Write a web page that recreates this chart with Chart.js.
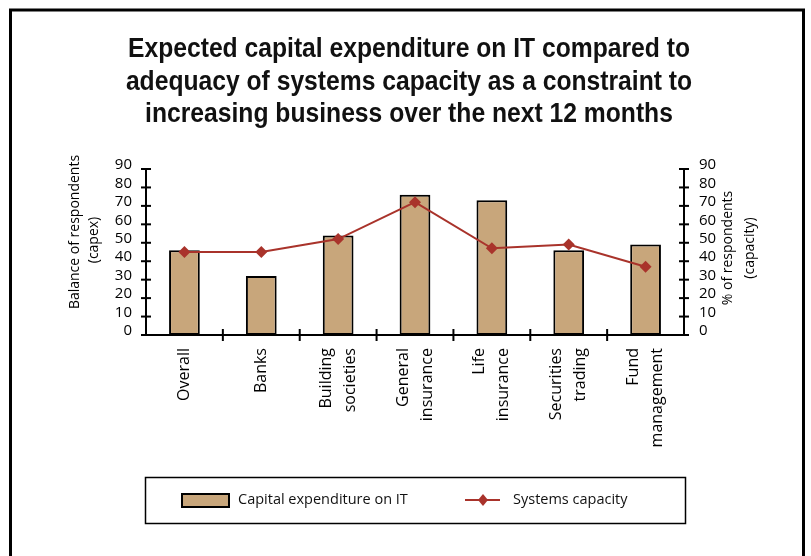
<!DOCTYPE html>
<html><head><meta charset="utf-8">
<script src="https://cdn.jsdelivr.net/npm/chart.js@4.4.1/dist/chart.umd.min.js"></script>
<style>html,body{margin:0;padding:0;background:#fff;}#wrap{width:811px;height:556px;}</style>
</head><body><div id="wrap"><canvas id="c" width="811" height="556"></canvas></div>
<script>
const titleLines = ['Expected capital expenditure on IT compared to', 'adequacy of systems capacity as a constraint to', 'increasing business over the next 12 months'];
const categories = [['Overall'], ['Banks'], ['Building', 'societies'], ['General', 'insurance'], ['Life', 'insurance'], ['Securities', 'trading'], ['Fund', 'management']];
const capexValues = [46, 32, 54, 76, 73, 46, 49];
const capacityValues = [45, 45, 52, 72, 47, 49, 37];
const seriesNames = ['Capital expenditure on IT', 'Systems capacity'];
const leftAxisTitle = ['Balance of respondents', '(capex)'];
const rightAxisTitle = ['% of respondents', '(capacity)'];
const axisMin = 0, axisMax = 90, axisStep = 10;

const BAR = '#C8A67B', LINE = '#A9332B';
const FONT = '"Open Sans", "DejaVu Sans", sans-serif';

const decor = {
  id: 'decor',
  beforeDraw(chart) {
    const ctx = chart.ctx;
    ctx.save(); ctx.fillStyle = '#fff'; ctx.fillRect(0, 0, chart.width, chart.height); ctx.restore();
  },
  afterDraw(chart) {
    const ctx = chart.ctx;
    const xs = chart.scales.x, yl = chart.scales.y, yr = chart.scales.y1;
    const area = chart.chartArea;
    ctx.save();
    // outer frame
    ctx.strokeStyle = '#000'; ctx.lineWidth = 3;
    ctx.strokeRect(10.5, 10, 793, 700);
    // title (condensed by horizontal scaling)
    ctx.fillStyle = '#111';
    ctx.font = 'bold 27px "Liberation Sans", Arial, sans-serif';
    ctx.textAlign = 'center'; ctx.textBaseline = 'middle';
    const sx = 562 / ctx.measureText(titleLines[0]).width;
    titleLines.forEach((t, i) => {
      ctx.save(); ctx.translate(409, 50 + i * 32.5); ctx.scale(sx, 1);
      ctx.fillText(t, 0, 0); ctx.restore();
    });
    // tick marks crossing the axes
    ctx.strokeStyle = '#000'; ctx.lineWidth = 2;
    for (let v = axisMin; v <= axisMax; v += axisStep) {
      const py = yl.getPixelForValue(v);
      ctx.beginPath(); ctx.moveTo(area.left - 5, py); ctx.lineTo(area.left + 5, py); ctx.stroke();
      const pr = yr.getPixelForValue(v);
      ctx.beginPath(); ctx.moveTo(area.right - 5, pr); ctx.lineTo(area.right + 5, pr); ctx.stroke();
    }
    for (let i = 1; i < categories.length; i++) {
      const px = (xs.getPixelForValue(i - 1) + xs.getPixelForValue(i)) / 2;
      ctx.beginPath(); ctx.moveTo(px, area.bottom - 6); ctx.lineTo(px, area.bottom + 6); ctx.stroke();
    }
    // category labels (rotated)
    ctx.fillStyle = '#000';
    ctx.font = '16px ' + FONT;
    categories.forEach((lines, i) => {
      const px = xs.getPixelForValue(i);
      ctx.save();
      ctx.translate(px, area.bottom + 13);
      ctx.rotate(-Math.PI / 2);
      ctx.textAlign = 'right'; ctx.textBaseline = 'middle';
      lines.forEach((l, j) => ctx.fillText(l, 0, (j - (lines.length - 1) / 2) * 24));
      ctx.restore();
    });
    // axis titles
    ctx.font = '14px ' + FONT;
    ctx.textAlign = 'center'; ctx.textBaseline = 'middle';
    const drawV = (x, y, t) => { ctx.save(); ctx.translate(x, y); ctx.rotate(-Math.PI / 2); ctx.fillText(t, 0, 0); ctx.restore(); };
    drawV(75, 232, leftAxisTitle[0]); drawV(94, 240, leftAxisTitle[1]);
    drawV(728, 248, rightAxisTitle[0]); drawV(750, 248, rightAxisTitle[1]);
    // legend
    ctx.lineWidth = 1.5; ctx.strokeStyle = '#000';
    ctx.strokeRect(145.5, 477.5, 540, 46);
    ctx.fillStyle = BAR; ctx.fillRect(181, 493, 49, 15);
    ctx.lineWidth = 2; ctx.strokeRect(182, 494, 47, 13);
    ctx.font = '14.5px ' + FONT;
    ctx.fillStyle = '#111'; ctx.textAlign = 'left';
    ctx.fillText(seriesNames[0], 238, 500);
    ctx.strokeStyle = LINE; ctx.lineWidth = 2;
    ctx.beginPath(); ctx.moveTo(465, 500); ctx.lineTo(500, 500); ctx.stroke();
    ctx.fillStyle = LINE; ctx.beginPath();
    ctx.moveTo(483, 494); ctx.lineTo(488, 500); ctx.lineTo(483, 506); ctx.lineTo(478, 500); ctx.closePath(); ctx.fill();
    ctx.fillStyle = '#111';
    ctx.fillText(seriesNames[1], 513, 500);
    ctx.restore();
  }
};

new Chart(document.getElementById('c'), {
  data: {
    labels: categories,
    datasets: [
      { type: 'line', label: seriesNames[1], data: capacityValues, yAxisID: 'y1', order: 0,
        borderColor: LINE, backgroundColor: LINE, borderWidth: 2, tension: 0,
        pointStyle: 'rectRot', pointRadius: 6, pointBackgroundColor: LINE, pointBorderColor: LINE, pointBorderWidth: 0 },
      { type: 'bar', label: seriesNames[0], data: capexValues, yAxisID: 'y', order: 1,
        backgroundColor: BAR, borderColor: '#000', borderWidth: 2, borderSkipped: false,
        barPercentage: 0.4, categoryPercentage: 1 }
    ]
  },
  options: {
    responsive: false, animation: false, devicePixelRatio: 1,
    layout: { padding: { top: 169, left: 0, right: 0, bottom: 0 } },
    plugins: { legend: { display: false }, title: { display: false }, tooltip: { enabled: false } },
    scales: {
      x: { type: 'category', offset: true,
        grid: { display: false, drawTicks: false },
        border: { display: true, color: '#000', width: 2 },
        ticks: { display: false },
        afterFit: s => { s.height = 221; } },
      y: { position: 'left', min: axisMin, max: axisMax,
        grid: { display: false, drawTicks: false },
        border: { display: true, color: '#000', width: 2 },
        ticks: { stepSize: axisStep, autoSkip: false, color: '#000', padding: 14, labelOffset: -4, font: { family: FONT, size: 15 } },
        afterFit: s => { s.width = 146; } },
      y1: { position: 'right', min: axisMin, max: axisMax,
        grid: { display: false, drawTicks: false },
        border: { display: true, color: '#000', width: 2 },
        ticks: { stepSize: axisStep, autoSkip: false, color: '#000', padding: 15, labelOffset: -4, font: { family: FONT, size: 15 } },
        afterFit: s => { s.width = 127; } }
    }
  },
  plugins: [decor]
});
</script>
</body></html>
